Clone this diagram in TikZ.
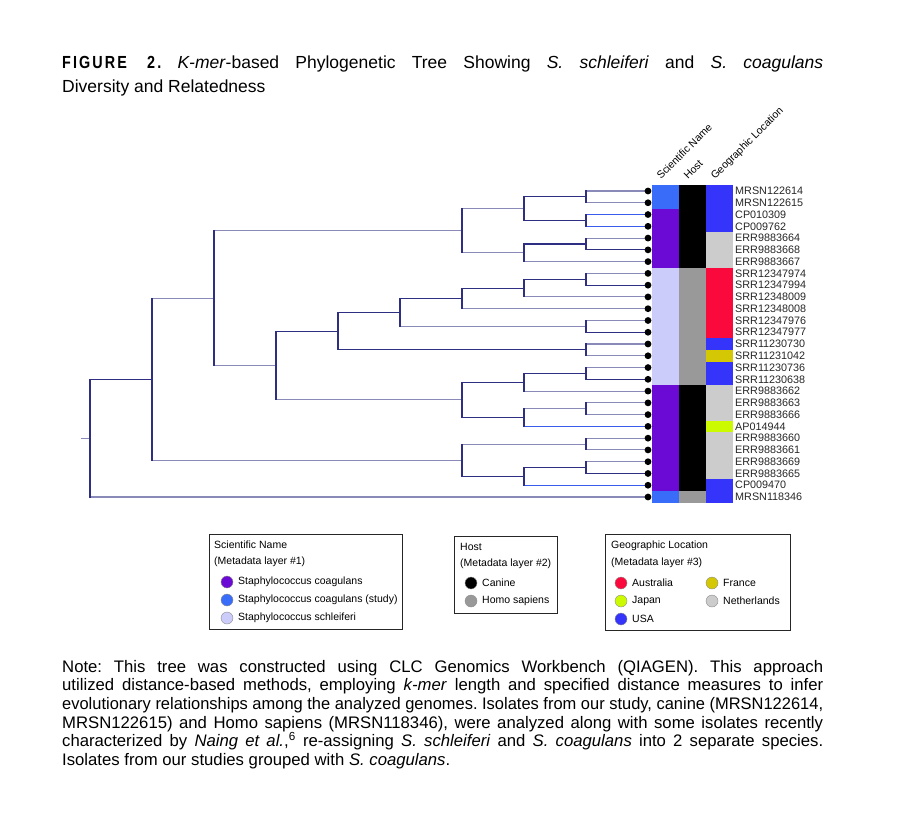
\documentclass[tikz,border=0pt]{standalone}
\usepackage{fontspec}
\usepackage{graphicx}
\setmainfont{Liberation Sans}
\newfontfamily\figfont[FakeStretch=0.82,LetterSpace=12]{Liberation Sans Bold}
\newsavebox\lnbox
\newcommand\jline[2]{\sbox\lnbox{#2}\ifdim\wd\lnbox>#1\relax\resizebox{#1}{\height}{#2}\else\makebox[#1][s]{#2}\fi}
\newcommand\cellfill[5]{\fill[#5] (#1,{185.115+(#3-1)*11.77}) rectangle (#2,{185.115+#4*11.77});}
\definecolor{navy}{HTML}{2E2E82}
\definecolor{lgray}{HTML}{8A8AB8}
\definecolor{bblue}{HTML}{3B5BF0}
\definecolor{study}{HTML}{3A6CFA}
\definecolor{purp}{HTML}{6A0AD4}
\definecolor{lav}{HTML}{CCCCFA}
\definecolor{homo}{HTML}{999999}
\definecolor{usa}{HTML}{3434FA}
\definecolor{neth}{HTML}{CCCCCC}
\definecolor{aus}{HTML}{FA0A3C}
\definecolor{fra}{HTML}{D4C804}
\definecolor{jap}{HTML}{CCFA00}
\tikzset{
  br/.style={line width=1.1pt},
  nv/.style={br,draw=navy},
  gy/.style={br,draw=lgray},
  bl/.style={br,draw=bblue},
  leafdot/.style={circle,fill=black,inner sep=0pt,minimum size=6.8pt},
  leaflab/.style={anchor=west,inner sep=0pt,font=\fontsize{10.8}{12}\selectfont,text=black!85},
  legtxt/.style={anchor=west,inner sep=0pt,font=\fontsize{10.5}{12}\selectfont},
  legdot/.style={circle,inner sep=0pt,minimum size=12pt,draw=black!45,line width=0.4pt},
  legbox/.style={draw=black!85,line width=0.9pt,anchor=north west,inner sep=0pt},
  hdr/.style={rotate=45,anchor=base west,inner sep=0pt,font=\fontsize{10.5}{12}\selectfont},
  notetxt/.style={anchor=base west,inner sep=0pt,font=\fontsize{16.7}{19}\selectfont},
  titletxt/.style={anchor=base west,inner sep=0pt,font=\fontsize{17.5}{20}\selectfont}
}
\begin{document}
\frenchspacing
\begin{tikzpicture}[x=1pt,y=-1pt]
\useasboundingbox (0,0) rectangle (900,830);

% title
\node[titletxt] (title1) at (62,68.5) {\jline{761pt}{{\figfont FIGURE 2.} \textit{K-mer}-based Phylogenetic Tree Showing \textit{S. schleiferi} and \textit{S. coagulans}}};
\node[titletxt] (title2) at (62,92) {Diversity and Relatedness};

% metadata strips
\cellfill{652}{679}{1}{2}{study}
\cellfill{652}{679}{3}{7}{purp}
\cellfill{652}{679}{8}{17}{lav}
\cellfill{652}{679}{18}{26}{purp}
\cellfill{652}{679}{27}{27}{study}
\cellfill{679}{706}{1}{7}{black}
\cellfill{679}{706}{8}{17}{homo}
\cellfill{679}{706}{18}{26}{black}
\cellfill{679}{706}{27}{27}{homo}
\cellfill{706}{733}{1}{4}{usa}
\cellfill{706}{733}{5}{7}{neth}
\cellfill{706}{733}{8}{13}{aus}
\cellfill{706}{733}{14}{14}{usa}
\cellfill{706}{733}{15}{15}{fra}
\cellfill{706}{733}{16}{17}{usa}
\cellfill{706}{733}{18}{20}{neth}
\cellfill{706}{733}{21}{21}{jap}
\cellfill{706}{733}{22}{25}{neth}
\cellfill{706}{733}{26}{27}{usa}

% column headers
\node[hdr] (hsci) at (661,180) {Scientific Name};
\node[hdr] (hhost) at (688,180) {Host};
\node[hdr] (hgeo) at (715,180) {Geographic Location};

% leaves
\foreach \n [count=\i] in {MRSN122614,MRSN122615,CP010309,CP009762,ERR9883664,ERR9883668,ERR9883667,SRR12347974,SRR12347994,SRR12348009,SRR12348008,SRR12347976,SRR12347977,SRR11230730,SRR11231042,SRR11230736,SRR11230638,ERR9883662,ERR9883663,ERR9883666,AP014944,ERR9883660,ERR9883661,ERR9883669,ERR9883665,CP009470,MRSN118346}{
  \coordinate (l\i) at (648,{191+(\i-1)*11.77});
  \node[leaflab] (lab\i) at (735,{191+(\i-1)*11.77}) {\n};
}

% internal nodes
\coordinate (n12) at (586,196.89);
\coordinate (n34) at (586,220.43);
\coordinate (n56) at (586,243.97);
\coordinate (n89) at (586,279.28);
\coordinate (n1213) at (586,326.36);
\coordinate (n1415) at (586,349.90);
\coordinate (n1617) at (586,373.44);
\coordinate (n1920) at (586,408.75);
\coordinate (n2223) at (586,444.06);
\coordinate (n2425) at (586,467.60);
\coordinate (C1) at (524,208.66);
\coordinate (C2) at (524,252.79);
\coordinate (E3) at (524,288.10);
\coordinate (F1) at (524,382.26);
\coordinate (F2) at (524,417.57);
\coordinate (G2) at (524,476.42);
\coordinate (C) at (462,230.72);
\coordinate (E2) at (462,298.40);
\coordinate (F) at (462,399.92);
\coordinate (G) at (462,460.24);
\coordinate (E1) at (400,312.38);
\coordinate (E) at (338,331.14);
\coordinate (D) at (276,365.53);
\coordinate (B) at (214,298.13);
\coordinate (A) at (152,379.18);
\coordinate (R) at (90,438.10);
\coordinate (stub) at (81,438.10);

% branches (horizontal colours)
\draw[gy] (stub) -- (R);
\foreach \p/\c in {R/A,D/E,E/E1,E/n1415,E1/E2,E2/E3,E3/n89,C1/n12,C1/n34,C2/n56,F/F1,F/F2,F1/n1617,G/G2,G2/n2425,n56/l6,n89/l9,n1213/l13,n1617/l17,n2425/l25}
  \draw[nv] (\p) |- (\c);
\foreach \p/\c in {R/l27,A/B,A/G,B/C,B/D,C/C1,C/C2,C2/l7,D/F,E1/n1213,E2/l11,E3/l10,F1/l18,F2/n1920,G/n2223,n12/l1,n12/l2,n56/l5,n89/l8,n1213/l12,n1415/l14,n1415/l15,n1617/l16,n1920/l19,n1920/l20,n2223/l22,n2223/l23,n2425/l24}
  \draw[gy] (\p) |- (\c);
\foreach \p/\c in {n34/l3,n34/l4,F2/l21,G2/l26}
  \draw[bl] (\p) |- (\c);
% vertical connectors
\foreach \p/\a/\b in {R/A/l27,A/B/G,B/C/D,C/C1/C2,C1/n12/n34,C2/n56/l7,D/E/F,E/E1/n1415,E1/E2/n1213,E2/E3/l11,E3/n89/l10,F/F1/F2,F1/n1617/l18,F2/n1920/l21,G/n2223/G2,G2/n2425/l26,n12/l1/l2,n34/l3/l4,n56/l5/l6,n89/l8/l9,n1213/l12/l13,n1415/l14/l15,n1617/l16/l17,n1920/l19/l20,n2223/l22/l23,n2425/l24/l25}
  \draw[nv,line cap=rect] (\p |- \a) -- (\p |- \b);

% leaf dots
\foreach \i in {1,...,27}
  \node[leafdot] (d\i) at (l\i) {};

% legend 1
\node[legbox,minimum width=193pt,minimum height=95pt] (leg1) at (209,534) {};
\node[legtxt] (leg1h) at (214,545) {Scientific Name};
\node[legtxt] (leg1m) at (214,562) {(Metadata layer \#1)};
\node[legdot,fill=purp] (c11) at (227,582) {};
\node[legtxt] (t11) at (238,582) {Staphylococcus coagulans};
\node[legdot,fill=study] (c12) at (227,600) {};
\node[legtxt] (t12) at (238,600) {Staphylococcus coagulans (study)};
\node[legdot,fill=lav] (c13) at (227,618) {};
\node[legtxt] (t13) at (238,618) {Staphylococcus schleiferi};

% legend 2
\node[legbox,minimum width=103pt,minimum height=77pt] (leg2) at (454,536) {};
\node[legtxt] (leg2h) at (460,547) {Host};
\node[legtxt] (leg2m) at (460,564) {(Metadata layer \#2)};
\node[legdot,fill=black] (c21) at (471,583) {};
\node[legtxt] (t21) at (482,583) {Canine};
\node[legdot,fill=homo] (c22) at (471,601) {};
\node[legtxt] (t22) at (482,601) {Homo sapiens};

% legend 3
\node[legbox,minimum width=185pt,minimum height=96pt] (leg3) at (605,534) {};
\node[legtxt] (leg3h) at (611,546) {Geographic Location};
\node[legtxt] (leg3m) at (611,563) {(Metadata layer \#3)};
\node[legdot,fill=aus] (c31) at (621,583) {};
\node[legtxt] (t31) at (632,583) {Australia};
\node[legdot,fill=fra] (c32) at (712,583) {};
\node[legtxt] (t32) at (723,583) {France};
\node[legdot,fill=jap] (c33) at (621,601) {};
\node[legtxt] (t33) at (632,601) {Japan};
\node[legdot,fill=neth] (c34) at (712,601) {};
\node[legtxt] (t34) at (723,601) {Netherlands};
\node[legdot,fill=usa] (c35) at (621,619) {};
\node[legtxt] (t35) at (632,619) {USA};

% note
\node[notetxt] (note1) at (62,672) {\jline{761pt}{Note: This tree was constructed using CLC Genomics Workbench (QIAGEN). This approach}};
\node[notetxt] (note2) at (62,690.7) {\jline{761pt}{utilized distance-based methods, employing \textit{k-mer} length and specified distance measures to infer}};
\node[notetxt] (note3) at (62,709.4) {\jline{761pt}{evolutionary relationships among the analyzed genomes. Isolates from our study, canine (MRSN122614,}};
\node[notetxt] (note4) at (62,728.1) {\jline{761pt}{MRSN122615) and Homo sapiens (MRSN118346), were analyzed along with some isolates recently}};
\node[notetxt] (note5) at (62,746.8) {\jline{761pt}{characterized by \textit{Naing et al.},\textsuperscript{6} re-assigning \textit{S. schleiferi} and \textit{S. coagulans} into 2 separate species.}};
\node[notetxt] (note6) at (62,765.5) {Isolates from our studies grouped with \textit{S. coagulans}.};
\end{tikzpicture}
\end{document}
